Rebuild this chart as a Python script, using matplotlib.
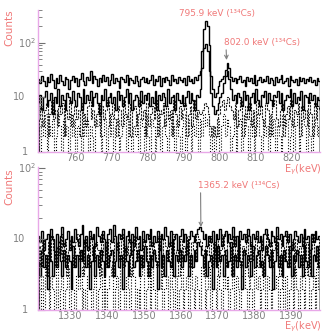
import numpy as np
import matplotlib
matplotlib.use("Agg")
import matplotlib.pyplot as plt
from matplotlib.ticker import FixedLocator, NullFormatter
from matplotlib.transforms import blended_transform_factory

# top panel: 0.5 keV bins starting at 749.5 keV
top_start = 749.5
top_width = 0.5
top_upper = [
    22, 18, 25, 20, 16, 24, 19, 27, 21, 15, 23, 18, 26, 20, 17, 24, 22, 14, 21, 25,
    19, 23, 16, 22, 28, 20, 17, 24, 21, 30, 18, 25, 22, 16, 23, 19, 26, 20, 24, 17,
    21, 27, 18, 23, 20, 15, 24, 22, 19, 26, 17, 23, 21, 18, 25, 20, 16, 22, 24, 19,
    23, 18, 21, 26, 17, 22, 20, 25, 16, 23, 19, 24, 21, 17, 26, 20, 22, 18, 24, 21,
    19, 23, 17, 25, 20, 22, 18, 24, 21, 26, 30, 70, 180, 250, 200, 90, 25, 14, 10, 12,
    16, 20, 22, 25, 32, 42, 35, 24, 20, 23, 18, 22, 25, 19, 21, 16, 24, 20, 23, 18,
    26, 17, 21, 24, 19, 22, 20, 25, 18, 23, 21, 17, 24, 19, 22, 26, 18, 20, 23, 16,
    25, 21, 19, 22, 17, 24, 20, 23, 18, 22, 20, 24, 19, 21, 17, 23, 20,
]
top_lower = [
    8, 11, 6, 10, 13, 7, 9, 12, 5, 10, 8, 14, 7, 11, 9, 6, 12, 10, 8, 13,
    9, 7, 12, 10, 6, 14, 8, 11, 9, 13, 7, 10, 12, 8, 5, 11, 9, 14, 7, 10,
    12, 8, 10, 6, 13, 9, 11, 7, 10, 14, 8, 12, 6, 9, 11, 10, 7, 13, 8, 11,
    9, 12, 7, 10, 8, 13, 6, 11, 9, 12, 10, 7, 14, 8, 10, 11, 6, 12, 9, 8,
    11, 7, 10, 13, 8, 12, 9, 6, 11, 10, 14, 35, 80, 95, 70, 30, 12, 7, 5, 6,
    8, 10, 12, 18, 25, 30, 22, 14, 9, 11, 8, 12, 10, 7, 13, 9, 11, 6, 10, 12,
    8, 14, 9, 7, 11, 10, 13, 8, 12, 9, 7, 11, 10, 13, 8, 12, 6, 9, 11, 10,
    14, 7, 12, 8, 10, 9, 13, 6, 11, 10, 8, 12, 9, 11, 7, 10, 9,
]
# second detector, bins shifted by a quarter keV
top_mid_start = 749.75
top_mid = [
    4, 7, 3, 6, 8, 2, 5, 9, 4, 6, 3, 7, 5, 8, 2, 6, 4, 9, 3, 5,
    7, 4, 6, 2, 8, 5, 3, 7, 9, 4, 6, 3, 5, 8, 2, 7, 4, 6, 9, 3,
    5, 8, 4, 2, 7, 6, 3, 9, 5, 4, 8, 2, 6, 7, 3, 5, 9, 4, 6, 2,
    8, 3, 5, 7, 4, 9, 2, 6, 5, 8, 3, 7, 4, 6, 2, 9, 5, 3, 7, 4,
    6, 8, 2, 5, 7, 3, 9, 4, 6, 5, 5, 6, 8, 7, 5, 3, 2, 3, 2, 4,
    5, 7, 9, 6, 8, 10, 7, 6, 4, 8, 3, 6, 9, 2, 5, 7, 4, 8, 3, 6,
    2, 9, 5, 7, 4, 3, 8, 6, 2, 5, 7, 9, 4, 3, 6, 8, 2, 5, 7, 4,
    9, 3, 6, 5, 8, 2, 7, 4, 6, 3, 9, 5, 2, 8, 4, 7, 6,
]
top_bkg = [
    3, 1, 4, 2, 5, 1, 3, 2, 4, 1, 2, 5, 3, 1, 4, 2, 3, 1, 5, 2,
    4, 1, 3, 2, 1, 5, 2, 4, 1, 3, 2, 1, 4, 3, 5, 1, 2, 4, 1, 3,
    2, 5, 1, 3, 4, 1, 2, 3, 5, 1, 4, 2, 1, 3, 2, 5, 1, 4, 3, 1,
    5, 2, 1, 4, 3, 1, 2, 5, 1, 3, 4, 2, 1, 5, 2, 3, 1, 4, 2, 1,
    3, 5, 1, 2, 4, 1, 3, 2, 5, 1, 4, 2, 5, 3, 4, 2, 1, 3, 1, 2,
    4, 1, 3, 5, 2, 4, 3, 1, 2, 5, 1, 3, 4, 1, 2, 5, 3, 1, 4, 2,
    1, 3, 5, 2, 1, 4, 2, 3, 1, 5, 2, 4, 1, 3, 2, 1, 5, 3, 4, 1,
    2, 4, 1, 3, 5, 1, 2, 4, 3, 1, 5, 2, 1, 3, 4, 2, 3,
]

# bottom panel: 0.5 keV bins starting at 1321 keV
bot_start = 1321.0
bot_width = 0.5
bot_upper = [
    11, 9, 13, 7, 10, 12, 8, 14, 10, 6, 12, 9, 11, 15, 8, 10, 13, 7, 11, 9,
    14, 10, 8, 12, 16, 9, 11, 7, 13, 10, 12, 8, 15, 11, 9, 13, 10, 7, 12, 14,
    9, 16, 11, 8, 12, 10, 14, 7, 11, 13, 9, 12, 8, 15, 10, 11, 7, 13, 9, 12,
    10, 14, 8, 11, 9, 13, 7, 12, 10, 15, 11, 8, 13, 9, 10, 12, 7, 11, 14, 9,
    12, 8, 10, 13, 11, 9, 12, 14, 15, 13, 10, 12, 8, 11, 9, 13, 7, 12, 10, 14,
    8, 11, 13, 9, 12, 10, 15, 8, 11, 7, 13, 10, 12, 9, 14, 11, 8, 12, 10, 13,
    9, 11, 7, 12, 14, 10, 8, 13, 11, 9, 15, 10, 12, 8, 11, 13, 9, 12, 7, 10,
    13, 11, 9, 12, 8, 14, 10, 11, 7, 12, 9, 13, 10, 11,
]
bot_lower = [
    5, 3, 7, 4, 6, 2, 8, 5, 3, 6, 4, 9, 5, 3, 7, 4, 6, 5, 2, 8,
    4, 6, 3, 7, 5, 9, 4, 6, 2, 5, 8, 3, 6, 4, 7, 5, 3, 9, 4, 6,
    7, 3, 5, 8, 4, 6, 2, 7, 5, 3, 6, 9, 4, 5, 7, 3, 6, 4, 8, 5,
    3, 6, 4, 7, 5, 2, 8, 4, 6, 3, 7, 5, 4, 9, 3, 6, 5, 7, 4, 6,
    5, 8, 3, 6, 4, 7, 5, 9, 8, 6, 4, 7, 3, 5, 6, 2, 7, 4, 8, 5,
    6, 3, 7, 4, 5, 9, 3, 6, 4, 8, 5, 2, 7, 4, 6, 5, 3, 8, 4, 6,
    7, 4, 5, 3, 8, 6, 4, 7, 2, 5, 9, 4, 6, 3, 7, 5, 4, 8, 3, 6,
    5, 7, 4, 6, 3, 8, 5, 4, 7, 3, 6, 5, 8, 4,
]
bot_mid_start = 1321.25
bot_mid = [
    8, 4, 10, 6, 3, 9, 5, 11, 7, 4, 8, 6, 12, 5, 9, 3, 7, 10, 6, 4,
    9, 12, 5, 7, 3, 10, 8, 4, 11, 6, 5, 9, 7, 3, 12, 6, 8, 4, 10, 5,
    3, 11, 7, 9, 5, 12, 4, 8, 6, 10, 3, 7, 11, 5, 9, 6, 4, 10, 8, 3,
    12, 5, 9, 6, 4, 11, 7, 3, 10, 8, 5, 9, 4, 12, 6, 7, 3, 10, 5, 8,
    6, 11, 4, 9, 7, 5, 12, 10, 9, 7, 3, 8, 6, 11, 4, 9, 5, 10, 3, 7,
    12, 6, 4, 9, 8, 3, 11, 5, 7, 10, 4, 8, 6, 12, 3, 9, 5, 7, 11, 4,
    8, 10, 3, 6, 12, 5, 9, 4, 7, 11, 6, 3, 10, 8, 5, 12, 4, 7, 9, 3,
    10, 6, 8, 4, 11, 5, 9, 3, 7, 12, 6, 8, 4, 10,
]
bot_bkg = [
    2, 1, 3, 1, 4, 2, 1, 3, 2, 1, 4, 1, 2, 3, 1, 2, 4, 1, 3, 2,
    1, 3, 2, 4, 1, 2, 1, 3, 4, 1, 2, 3, 1, 2, 4, 1, 3, 1, 2, 3,
    4, 1, 2, 3, 1, 4, 2, 1, 3, 2, 1, 4, 3, 1, 2, 1, 3, 4, 1, 2,
    3, 1, 4, 2, 1, 3, 2, 4, 1, 2, 3, 1, 4, 2, 1, 3, 1, 2, 4, 1,
    2, 3, 1, 4, 2, 1, 3, 2, 1, 4, 3, 1, 2, 4, 1, 3, 2, 1, 3, 2,
    1, 4, 2, 3, 1, 2, 4, 1, 3, 2, 1, 3, 4, 2, 1, 3, 2, 1, 4, 2,
    3, 1, 2, 4, 1, 3, 2, 1, 4, 2, 3, 1, 2, 4, 1, 3, 1, 2, 3, 1,
    4, 2, 1, 3, 2, 1, 4, 3, 1, 2, 3, 1, 4, 2,
]

top_ticks = [760, 770, 780, 790, 800, 810, 820]
bot_ticks = [1330, 1340, 1350, 1360, 1370, 1380, 1390]
y_ticks = [1, 10, 100]
y_labels = ["1", "10", "10$^{2}$"]

red = "#f07878"
spine_col = "#e8a8e8"
tick_col = "#707070"


def edges(start, width, n):
    return start + width * np.arange(n + 1)


def style(ax, xlim, ylim, xticks):
    ax.set_yscale("log")
    ax.set_xlim(*xlim)
    ax.set_ylim(*ylim)
    for s in ("top", "right"):
        ax.spines[s].set_visible(False)
    for s in ("left", "bottom"):
        ax.spines[s].set_color(spine_col)
        ax.spines[s].set_linewidth(1.0)
    ax.xaxis.set_major_locator(FixedLocator(xticks))
    ax.xaxis.set_minor_locator(FixedLocator([]))
    ax.yaxis.set_major_locator(FixedLocator(y_ticks))
    ax.yaxis.set_major_formatter(NullFormatter())
    ax.yaxis.set_minor_formatter(NullFormatter())
    ax.tick_params(axis="both", which="both", direction="in", colors=tick_col,
                   labelsize=7, labelcolor="#808080")
    ax.tick_params(axis="y", which="major", length=5)
    ax.tick_params(axis="y", which="minor", length=3)
    ax.tick_params(axis="x", which="major", length=0, pad=1)
    # y tick labels placed by hand so the "10" parts line up
    tr = blended_transform_factory(ax.transAxes, ax.transData)
    ax.text(-0.034, y_ticks[0], y_labels[0], transform=tr, fontsize=7,
            color="#808080", ha="right", va="center")
    ax.text(-0.045, y_ticks[1], y_labels[1], transform=tr, fontsize=7,
            color="#808080", ha="right", va="center")
    ax.text(-0.068, y_ticks[2], y_labels[2], transform=tr, fontsize=7,
            color="#808080", ha="left", va="center")


fig = plt.figure(figsize=(3.27, 3.34), dpi=100)
ax1 = fig.add_axes([0.115, 0.545, 0.864, 0.425])
ax2 = fig.add_axes([0.115, 0.072, 0.864, 0.428])

e1 = edges(top_start, top_width, len(top_upper))
ax1.stairs(top_bkg, e1, color="black", lw=0.8, ls=":")
ax1.stairs(top_mid, edges(top_mid_start, top_width, len(top_mid)),
           color="#202020", lw=0.8, ls=(0, (2, 1)))
ax1.stairs(top_lower, e1, color="black", lw=1.0)
ax1.stairs(top_upper, e1, color="black", lw=1.0)
style(ax1, (top_start, 828.0), (1, 400), top_ticks)
ax1.text(0.635, 0.972, "795.9 keV (¹³⁴Cs)", transform=ax1.transAxes,
         color=red, fontsize=6.4, ha="center", va="center")
ax1.annotate("802.0 keV (¹³⁴Cs)", xy=(802.0, 0.648), xytext=(-2, 0.739),
             xycoords=("data", "axes fraction"),
             textcoords=("offset points", "axes fraction"),
             color=red, fontsize=6.4, ha="left", va="bottom",
             arrowprops=dict(arrowstyle="->", color="#808080", lw=0.8,
                             shrinkA=0, shrinkB=0, relpos=(0.03, 0)))

e2 = edges(bot_start, bot_width, len(bot_upper))
ax2.stairs(bot_bkg, e2, color="black", lw=0.8, ls=":")
ax2.stairs(bot_mid, edges(bot_mid_start, bot_width, len(bot_mid)),
           color="#202020", lw=0.8, ls=(0, (2, 1)))
ax2.stairs(bot_lower, e2, color="black", lw=1.0)
ax2.stairs(bot_upper, e2, color="black", lw=1.0)
style(ax2, (bot_start, 1398.0), (1, 105), bot_ticks)
ax2.annotate("1365.2 keV (¹³⁴Cs)", xy=(1365.5, 0.58), xytext=(-2, 0.839),
             xycoords=("data", "axes fraction"),
             textcoords=("offset points", "axes fraction"),
             color=red, fontsize=6.4, ha="left", va="bottom",
             arrowprops=dict(arrowstyle="->", color="#808080", lw=0.8,
                             shrinkA=0, shrinkB=0, relpos=(0.03, 0)))

# axis titles
for y in (1 - 27.5 / 334, 1 - 187 / 334):
    fig.text(9 / 327, y, "Counts", color=red, fontsize=7.5, rotation=90,
             ha="center", va="center")
for y in (1 - 170 / 334, 1 - 327 / 334):
    fig.text(322 / 327, y, "E$_\\gamma$(keV)", color=red, fontsize=7,
             ha="right", va="center")

fig.savefig("out.png", dpi=100)
